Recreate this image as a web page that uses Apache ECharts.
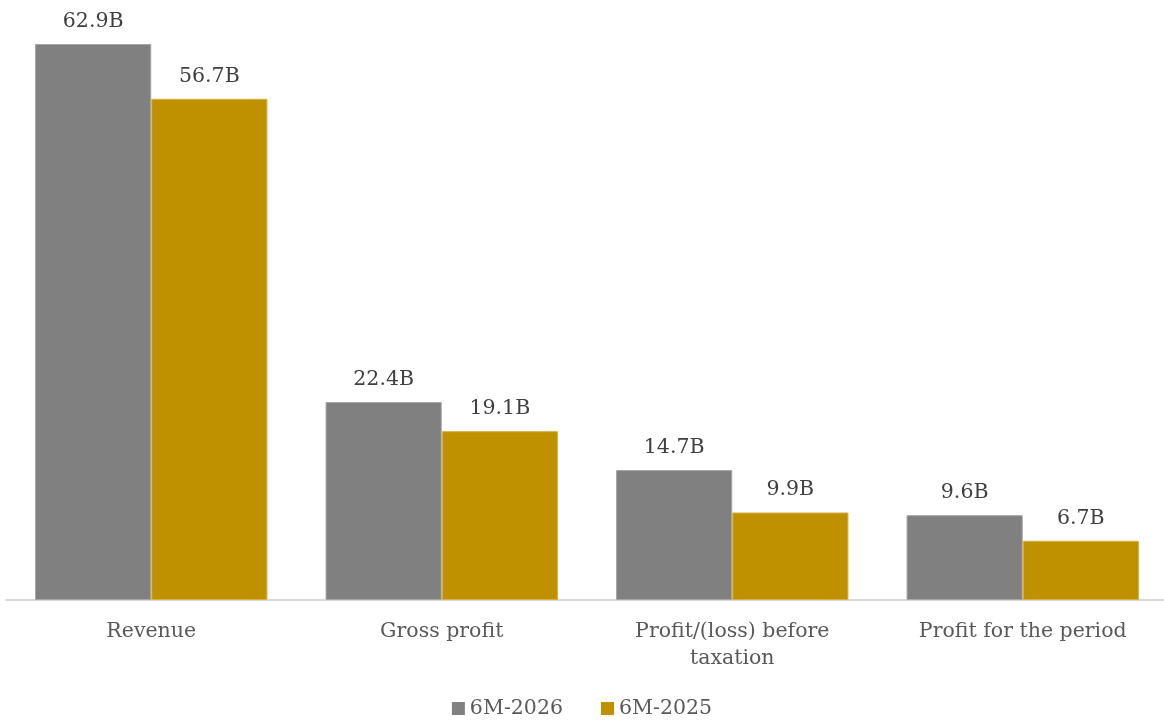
<!DOCTYPE html>
<html>
<head>
<meta charset="utf-8">
<script src="https://cdn.jsdelivr.net/npm/echarts@6/dist/echarts.min.js"></script>
<style>
  html, body { margin: 0; padding: 0; background: #fff; }
  #chart { width: 1164px; height: 720px; }
</style>
</head>
<body>
<div id="chart"></div>
<script>
  // values in billions
  const categories = ['Revenue', 'Gross profit', 'Profit/(loss) before\ntaxation', 'Profit for the period']
  const seriesNames = ['6M-2026', '6M-2025']
  const current = [62.9, 22.4, 14.7, 9.6]
  const previous = [56.7, 19.1, 9.9, 6.7]

  const font = "Georgia, 'DejaVu Serif', serif"
  const chart = echarts.init(document.getElementById('chart'))

  const labelStyle = {
    show: true,
    position: 'top',
    distance: 12,
    color: '#404040',
    fontFamily: font,
    fontSize: 20.5,
    formatter: p => p.value.toFixed(1) + 'B'
  }

  chart.setOption({
    animation: false,
    grid: {
      left: 6,
      width: 1162,
      top: 44,
      bottom: 120,
      outerBoundsMode: 'none'
    },
    legend: {
      data: seriesNames,
      bottom: -4,
      left: 'center',
      itemWidth: 13,
      itemHeight: 13,
      itemGap: 38,
      icon: 'rect',
      itemStyle: { borderWidth: 0 },
      textStyle: {
        color: '#595959',
        fontFamily: font,
        fontSize: 20.5
      }
    },
    xAxis: {
      type: 'category',
      data: categories,
      axisLine: { lineStyle: { color: '#d9d9d9', width: 2 } },
      axisTick: { show: false },
      axisLabel: {
        color: '#595959',
        fontFamily: font,
        fontSize: 20.5,
        margin: 18,
        lineHeight: 27,
        interval: 0
      }
    },
    yAxis: {
      type: 'value',
      min: 0,
      max: 'dataMax',
      show: false,
      splitLine: { show: false }
    },
    series: [
      {
        name: seriesNames[0],
        type: 'bar',
        data: current,
        barGap: '0%',
        barCategoryGap: '20%',
        itemStyle: { color: '#808080', borderColor: '#a6a6a6', borderWidth: 1 },
        label: labelStyle
      },
      {
        name: seriesNames[1],
        type: 'bar',
        data: previous,
        itemStyle: { color: '#bf9000', borderColor: '#d9b040', borderWidth: 1 },
        label: labelStyle
      }
    ]
  })
</script>
</body>
</html>
